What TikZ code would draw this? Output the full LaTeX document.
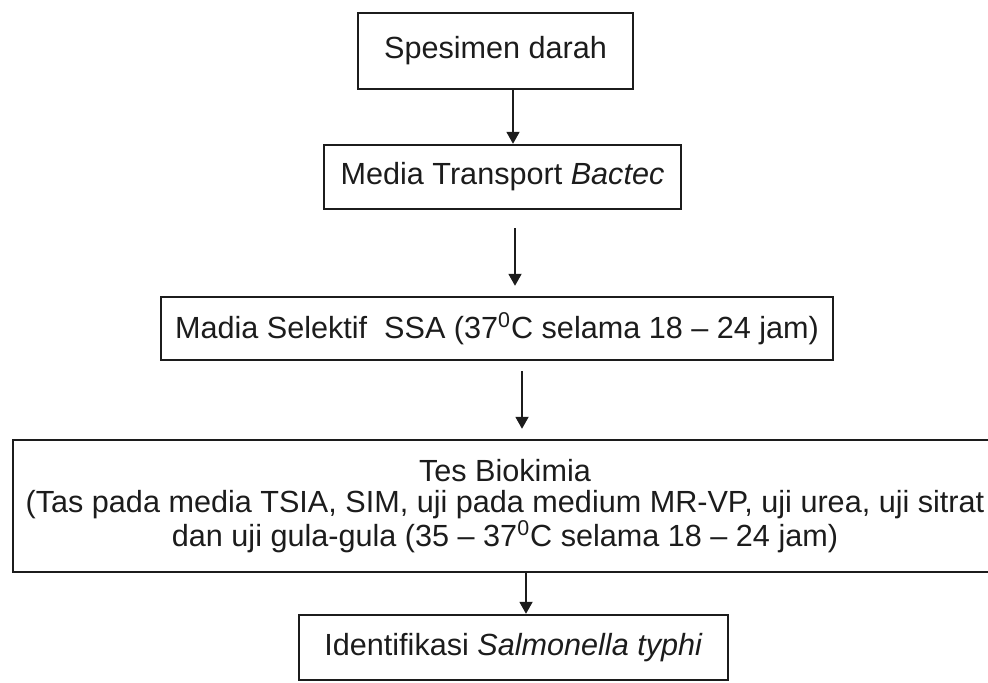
\documentclass[tikz,border=0pt]{standalone}
\usepackage{fontspec}
\setmainfont{Liberation Sans}
\usepackage{tikz}
\usetikzlibrary{arrows.meta,positioning}
\definecolor{ink}{HTML}{1C1C1C}
\tikzset{
  stepbox/.style={draw=ink,line width=1.2pt,inner sep=0pt,align=center,text=ink,
                  font=\fontsize{15.3}{15.5}\selectfont},
  flow/.style   ={-{Triangle[length=6pt,width=6.5pt]},line width=0.9pt,draw=ink}
}

\begin{document}
\begin{tikzpicture}[x=0.5pt,y=-0.5pt]
  \useasboundingbox (0,0) rectangle (988,683);
  \node[stepbox,minimum width=137.5pt,minimum height=38pt] (spes) at (495.5,51) {Spesimen darah};
  \node[stepbox,minimum width=178.5pt,minimum height=32pt] (trans) at (502.5,177) {Media Transport \textit{Bactec}};
  \node[stepbox,minimum width=336pt,minimum height=31.5pt] (ssa) at (497,328.5)
       {Madia Selektif~ SSA (37\textsuperscript{0}C selama 18 -- 24 jam)};
  \node[stepbox,minimum width=492pt,minimum height=66pt] (tes) at (505,506)
       {Tes Biokimia\\(Tas pada media TSIA, SIM, uji pada medium MR-VP, uji urea, uji sitrat\\
        dan uji gula-gula (35 -- 37\textsuperscript{0}C selama 18 -- 24 jam)};
  \node[stepbox,minimum width=214.5pt,minimum height=32.5pt] (ident) at (513.5,647.5)
       {Identifikasi \textit{Salmonella typhi}};
  \coordinate (a1) at (513,0);
  \coordinate (a2) at (515,0);
  \coordinate (a3) at (522,0);
  \coordinate (a4) at (526,0);
  \draw[flow] (spes.south -| a1) -- (trans.north -| a1);
  \draw[flow,shorten <=9pt,shorten >=5pt] (trans.south -| a2) -- (ssa.north -| a2);
  \draw[flow,shorten <=5pt,shorten >=5pt] (ssa.south -| a3) -- (tes.north -| a3);
  \draw[flow] (tes.south -| a4) -- (ident.north -| a4);
\end{tikzpicture}
\end{document}
